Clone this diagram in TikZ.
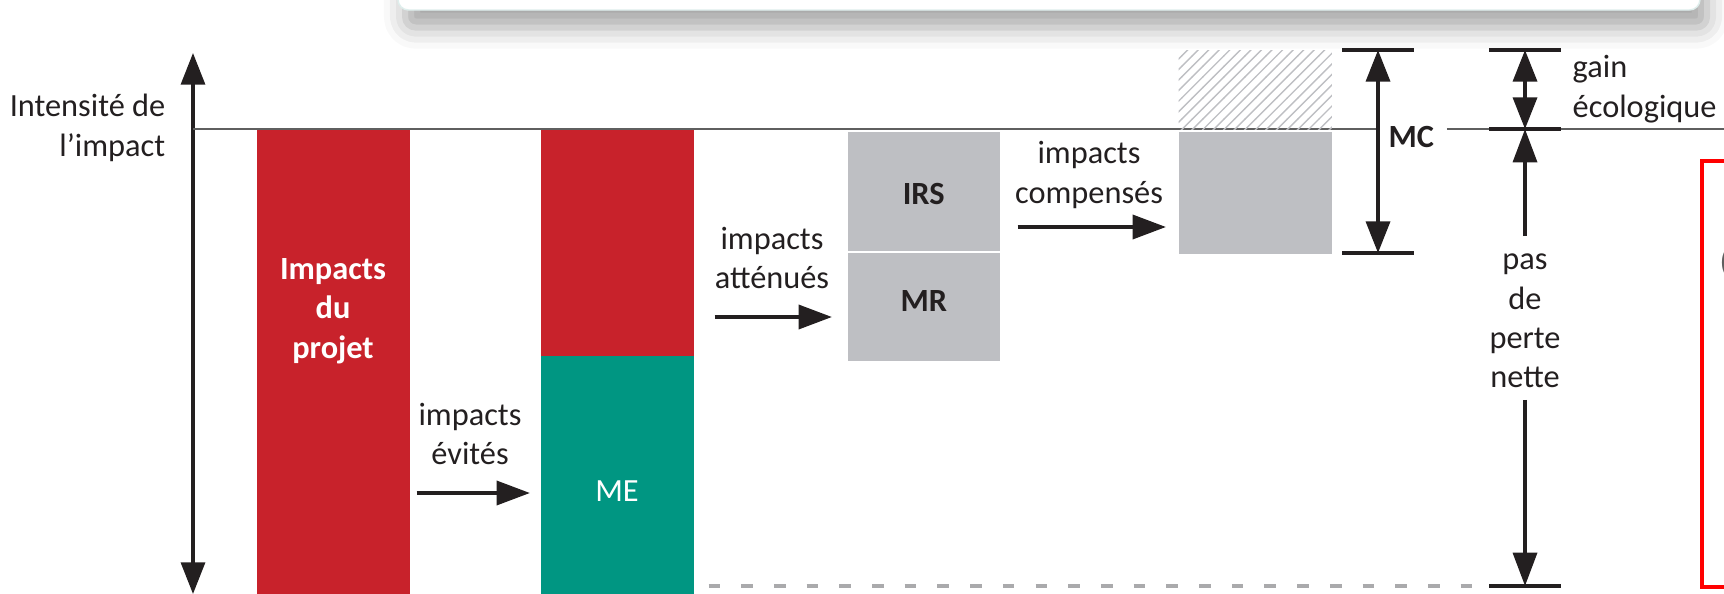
\documentclass[tikz,border=0pt]{standalone}
\usepackage{fontspec}
\setmainfont{Carlito}
\usepackage{xcolor}
\definecolor{crimson-600}{RGB}{200,34,43}
\definecolor{teal-600}{RGB}{0,150,130}
\definecolor{teal-50}{RGB}{222,238,236}
\definecolor{gray-300}{RGB}{190,191,195}
\definecolor{gray-400}{RGB}{170,170,172}
\definecolor{gray-600}{RGB}{95,95,95}
\definecolor{gray-900}{RGB}{35,31,32}
\definecolor{alert-red}{RGB}{255,0,0}
\usetikzlibrary{arrows.meta,patterns,shadows.blur}

\begin{document}
\begin{tikzpicture}[
    x=0.01cm, y=-0.01cm,
    font=\fontsize{9.2}{11.2}\selectfont,
    every node/.style={text=gray-900},
    bar/.style={
        rectangle,
        inner sep=0pt,
        anchor=north west,
        minimum width=1.53cm
    },
    bar text/.style={
        font=\fontsize{9.2}{11.2}\selectfont\bfseries,
        text=white,
        align=center,
        inner sep=0pt
    },
    box label/.style={font=\fontsize{9.2}{11.2}\selectfont\bfseries},
    step label/.style={align=center, inner sep=0pt},
    arrow/.style={-{Triangle[length=9.5pt, width=6.8pt]}, line width=1.1pt, gray-900},
    dim arrow/.style={{Triangle[length=9pt, width=6.8pt]}-{Triangle[length=9pt, width=6.8pt]}, line width=1.1pt, gray-900},
    tick/.style={line width=1.2pt, gray-900},
    base line/.style={line width=0.6pt, gray-600},
    dash line/.style={line width=1.1pt, gray-400, dash pattern=on 3.3pt off 6pt}
]

% Frame
\useasboundingbox (0,0) rectangle (1724,594);
\clip (0,0) rectangle (1724,594);

% Panel above (cut by the frame)
\draw[teal-50, fill=white, rounded corners=3pt,
      blur shadow={shadow xshift=2pt, shadow yshift=-5pt, shadow blur radius=6pt, shadow opacity=35}]
    (398,-80) rectangle (1700,10);

% Axis and reference level
\coordinate (ytop) at (193,53);
\coordinate (ybot) at (193,594);
\draw[dim arrow, line width=1pt, {Triangle[length=9pt, width=6.8pt]}-{Triangle[length=9pt, width=6.8pt]}] (ybot) -- (ytop);
\node[step label, align=right, anchor=east] (ylbl) at (166,128) {Intensité de\\l’impact};

% Dimension points on the right
\coordinate (mct) at (1378,50);
\coordinate (mcb) at (1378,253);
\coordinate (gt) at (1525,50);
\coordinate (gm) at (1525,129);
\coordinate (gb) at (1525,586);
\node[box label, anchor=west, inner sep=0pt] (mclbl) at (1388,137) {MC};

\draw[base line] (ytop |- gm) -- (mct |- gm);
\draw[base line] ([xshift=0.12cm]mclbl.east |- gm) -- (1724,129);

% Bar 1 - project impacts
\node[bar, fill=crimson-600, minimum height=4.65cm] (proj) at (256,129) {};
\node[bar text] (projtxt) at (333,311) {Impacts\\du\\projet};

% Bar 2 - avoidance
\node[bar, fill=crimson-600, minimum height=2.26cm] (resid) at (540,129) {};
\node[bar, fill=teal-600, minimum height=2.39cm] (me) at (540,355) {};
\node[bar text, font=\fontsize{9.2}{11.2}\selectfont] (metxt) at (617,491) {ME};

% Reduction
\node[bar, fill=gray-300, minimum width=1.52cm, minimum height=1.19cm] (irs) at (847,131) {};
\node[box label] at ([yshift=-0.03cm]irs.center) {IRS};
\node[bar, fill=gray-300, minimum width=1.52cm, minimum height=1.08cm] (mr) at (847,252) {};
\node[box label] at ([yshift=0.06cm]mr.center) {MR};

% Offsetting
\node[bar, fill=gray-300, minimum height=1.22cm] (comp) at (1178,131) {};
\node[bar, pattern=north east lines, pattern color=gray-300, minimum height=0.79cm] (gain) at (1178,50) {};

% Steps between bars
\node[step label] (avlbl) at (470,434) {impacts\\évités};
\draw[arrow, shorten <=0.06cm, shorten >=0.1cm] (proj.east |- 0,493) -- (me.west |- 0,493);

\node[step label] (attlbl) at (772,258) {impacts\\atténués};
\draw[arrow, shorten <=0.2cm, shorten >=0.15cm] (resid.east |- 0,317) -- (mr.west |- 0,317);

\node[step label] (cplbl) at (1089,175) {impacts\\compensés};
\draw[arrow, shorten <=0.17cm, shorten >=0.12cm] (irs.east |- 0,227) -- (comp.west |- 0,227);

% MC range
\draw[tick] (mct) ++(-36,0) -- ++(72,0);
\draw[tick] (mcb) ++(-36,0) -- ++(72,0);
\draw[dim arrow] (mct) -- (mcb);

% Ecological gain / no net loss
\draw[tick] (gt) ++(-36,0) -- ++(72,0);
\draw[tick] (gm) ++(-36,0) -- ++(72,0);
\draw[tick] (gb) ++(-36,0) -- ++(72,0);
\draw[dim arrow] (gt) -- (gm);
\node[step label, align=left, anchor=west] (gainlbl) at (1572,89) {gain\\écologique};

\node[step label] (ppn) at (1525,321) {pas\\de\\perte\\nette};
\draw[arrow] ([yshift=0.17cm]ppn.north) -- (gm);
\draw[arrow] ([yshift=-0.11cm]ppn.south) -- (gb);

% Zero line
\draw[dash line, shorten <=0.14cm, shorten >=0.4cm] (me.east |- gb) -- (gb);

% Highlight box on the right
\draw[alert-red, line width=1.3pt] (1780,161) -| (1702,587) -- (1780,587);
\node[anchor=west, inner sep=0pt, text=gray-600] (paren) at (1719,263) {(};

\end{tikzpicture}
\end{document}
